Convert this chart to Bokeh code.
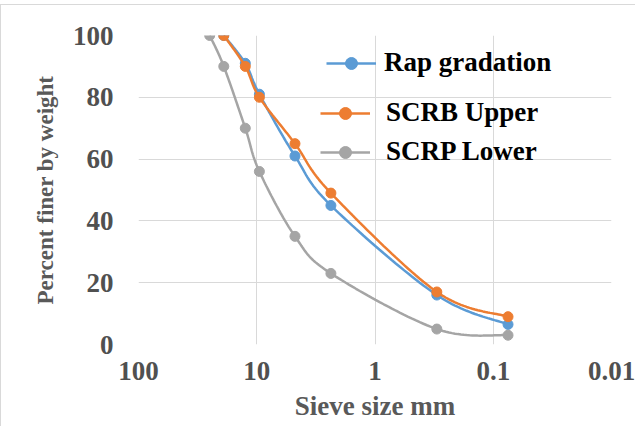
import numpy as np
from bokeh.plotting import figure
from bokeh.models import Range1d, FixedTicker, NumeralTickFormatter, Legend, LegendItem
from bokeh.embed import file_html
from bokeh.resources import INLINE

# ---- data ----
sieve_mm = [19, 12.5, 9.5, 4.75, 2.36, 0.3, 0.075]
rap_gradation = [100, 91, 81, 61, 45, 16, 6.5]
scrb_upper = [100, 90, 80, 65, 49, 17, 9]
sieve_lower_mm = [25, 19, 12.5, 9.5, 4.75, 2.36, 0.3, 0.075]
scrp_lower = [100, 90, 70, 56, 35, 23, 5, 3]
x_ticks = [100, 10, 1, 0.1, 0.01]
y_ticks = [0, 20, 40, 60, 80, 100]

BLUE = "#5b9bd5"
ORANGE = "#ed7d31"
GRAY = "#a5a5a5"
FONT = "Liberation Serif"


def smooth(xs, ys, n=30):
    """Excel-like smoothed line: cubic Bezier (Catmull-Rom) in (log10 x, y) space."""
    P = np.column_stack([np.log10(np.asarray(xs, float)), np.asarray(ys, float)])
    P = np.vstack([P[0], P, P[-1]])
    out = []
    t = np.linspace(0, 1, n)[:, None]
    for i in range(1, len(P) - 2):
        p0, p1, p2, p3 = P[i - 1], P[i], P[i + 1], P[i + 2]
        c1 = p1 + (p2 - p0) / 6.0
        c2 = p2 - (p3 - p1) / 6.0
        seg = (1 - t) ** 3 * p1 + 3 * (1 - t) ** 2 * t * c1 + 3 * (1 - t) * t ** 2 * c2 + t ** 3 * p2
        out.append(seg if i == 1 else seg[1:])
    S = np.vstack(out)
    return 10 ** S[:, 0], S[:, 1]


p = figure(width=635, height=422, x_axis_type="log",
           x_range=Range1d(100, 0.01), y_range=Range1d(0, 100),
           output_backend="svg", toolbar_location=None,
           min_border_left=137, min_border_top=30,
           min_border_right=25, min_border_bottom=83)
p.styles = {"margin-top": "4px", "border-left": "1px solid #d9d9d9",
            "border-top": "1px solid #d9d9d9"}
p.outline_line_color = None
p.background_fill_color = "white"
p.border_fill_color = "white"

p.xaxis.ticker = FixedTicker(ticks=x_ticks, minor_ticks=[])
p.xaxis.formatter = NumeralTickFormatter(format="0.[00]")
p.yaxis.ticker = FixedTicker(ticks=y_ticks, minor_ticks=[])
p.xgrid.ticker = FixedTicker(ticks=x_ticks, minor_ticks=[])
p.ygrid.ticker = FixedTicker(ticks=y_ticks, minor_ticks=[])
for g in (p.xgrid, p.ygrid):
    g.grid_line_color = "#d9d9d9"
    g.grid_line_width = 1

for ax in (p.xaxis, p.yaxis):
    ax.axis_line_color = None
    ax.major_tick_line_color = None
    ax.minor_tick_line_color = None
    ax.major_tick_out = 0
    ax.major_tick_in = 0
    ax.major_label_text_font = FONT
    ax.major_label_text_font_style = "bold"
    ax.major_label_text_font_size = "27px"
    ax.major_label_text_color = "#505050"
    ax.axis_label_text_font = FONT
    ax.axis_label_text_font_style = "bold"
    ax.axis_label_text_color = "#595959"

p.xaxis.major_label_standoff = 17
p.yaxis.major_label_standoff = 25
p.xaxis.axis_label = "Sieve size mm"
p.xaxis.axis_label_text_font_size = "27px"
p.xaxis.axis_label_standoff = 8
p.yaxis.axis_label = "Percent finer by weight"
p.yaxis.axis_label_text_font_size = "23px"
p.yaxis.axis_label_standoff = 12

renderers = {}
for name, xs, ys, col in [("Rap gradation", sieve_mm, rap_gradation, BLUE),
                          ("SCRB Upper", sieve_mm, scrb_upper, ORANGE),
                          ("SCRP Lower", sieve_lower_mm, scrp_lower, GRAY)]:
    sx, sy = smooth(xs, ys)
    ln = p.line(sx, sy, line_color=col, line_width=2.5)
    sc = p.scatter(xs, ys, marker="circle", size=10, fill_color=col, line_color=col)
    renderers[name] = [ln, sc]


def make_legend(names, loc, standoff, spacing):
    leg = Legend(items=[LegendItem(label=n, renderers=renderers[n]) for n in names],
                 location=loc, orientation="vertical")
    leg.label_text_font = FONT
    leg.label_text_font_style = "bold"
    leg.label_text_font_size = "27px"
    leg.label_text_color = "black"
    leg.glyph_width = 50
    leg.glyph_height = 30
    leg.label_height = 30
    leg.label_standoff = standoff
    leg.spacing = spacing
    leg.padding = 0
    leg.margin = 0
    leg.border_line_color = None
    leg.background_fill_alpha = 0
    return leg


p.add_layout(make_legend(["Rap gradation"], (188, 266), 8, 0))
p.add_layout(make_legend(["SCRB Upper", "SCRP Lower"], (182, 177), 16, 8))

open("out.html", "w").write(file_html(p, INLINE))
